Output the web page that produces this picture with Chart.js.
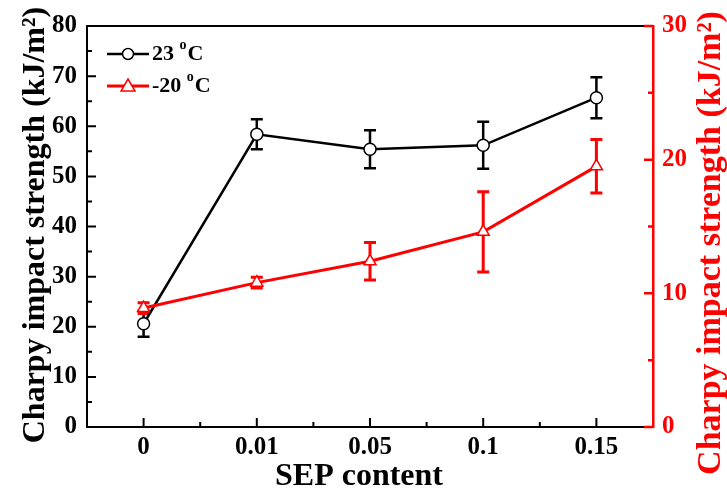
<!DOCTYPE html>
<html lang="en">
<head>
<meta charset="UTF-8" />
<title>Charpy impact strength vs SEP content</title>
<script src="https://cdn.jsdelivr.net/npm/chart.js"></script>
<style>
  html, body { margin: 0; padding: 0; background: #fff; }
</style>
</head>
<body>
<canvas id="impactChart" width="727" height="491"></canvas>
<script>
// SEP content on the x axis
const sepContent = ['0', '0.01', '0.05', '0.1', '0.15'];
// impact strength at 23 oC (left axis) and its standard deviation
const strength23 = [20.6, 58.4, 55.4, 56.2, 65.7];
const error23 = [2.6, 3.0, 3.8, 4.7, 4.1];
// impact strength at -20 oC (right axis) and its standard deviation
const strengthMinus20 = [8.9, 10.8, 12.4, 14.6, 19.5];
const errorMinus20 = [0.4, 0.4, 1.4, 3.0, 2.0];
// axis ranges
const leftTicks = [0, 10, 20, 30, 40, 50, 60, 70, 80];
const rightTicks = [0, 10, 20, 30];

const SERIF = "'Liberation Serif', 'Times New Roman', serif";
const RED = '#ff0000';

// error bars go under the markers
const errorBars = {
  id: 'errorBars',
  beforeDatasetsDraw(chart) {
    const ctx = chart.ctx;
    chart.data.datasets.forEach((ds, i) => {
      const meta = chart.getDatasetMeta(i);
      const ys = chart.scales[ds.yAxisID];
      ctx.save();
      ctx.strokeStyle = ds.borderColor;
      ctx.lineWidth = ds.errorWidth;
      meta.data.forEach((pt, j) => {
        const hi = ys.getPixelForValue(ds.data[j] + ds.errors[j]);
        const lo = ys.getPixelForValue(ds.data[j] - ds.errors[j]);
        ctx.beginPath();
        ctx.moveTo(pt.x, hi); ctx.lineTo(pt.x, lo);
        ctx.moveTo(pt.x - 6, hi); ctx.lineTo(pt.x + 6, hi);
        ctx.moveTo(pt.x - 6, lo); ctx.lineTo(pt.x + 6, lo);
        ctx.stroke();
      });
      ctx.restore();
    });
  }
};

// inward tick marks, top frame line, axis titles and legend
const frameAndText = {
  id: 'frameAndText',
  afterDraw(chart) {
    const ctx = chart.ctx;
    const area = chart.chartArea;
    const x = chart.scales.x, y = chart.scales.y, y1 = chart.scales.y1;
    ctx.save();

    // top frame
    ctx.strokeStyle = '#000';
    ctx.lineWidth = 2;
    ctx.beginPath();
    ctx.moveTo(area.left - 1, area.top);
    ctx.lineTo(area.right, area.top);
    ctx.stroke();

    // x ticks: major at categories, minor between them
    ctx.lineWidth = 2;
    ctx.beginPath();
    sepContent.forEach((c, i) => {
      const px = x.getPixelForValue(i);
      ctx.moveTo(px, area.bottom); ctx.lineTo(px, area.bottom - 9);
      if (i < sepContent.length - 1) {
        const mid = (px + x.getPixelForValue(i + 1)) / 2;
        ctx.moveTo(mid, area.bottom); ctx.lineTo(mid, area.bottom - 5);
      }
    });
    // left ticks, every 5 with majors every 10
    for (let v = leftTicks[0]; v <= leftTicks[leftTicks.length - 1]; v += 5) {
      const py = y.getPixelForValue(v);
      ctx.moveTo(area.left, py); ctx.lineTo(area.left + (v % 10 === 0 ? 9 : 5), py);
    }
    ctx.stroke();

    // right ticks in red
    ctx.strokeStyle = RED;
    ctx.lineWidth = 2.5;
    ctx.beginPath();
    for (let v = rightTicks[0]; v <= rightTicks[rightTicks.length - 1]; v += 5) {
      const py = y1.getPixelForValue(v);
      ctx.moveTo(area.right, py); ctx.lineTo(area.right - (v % 10 === 0 ? 9 : 5), py);
    }
    ctx.stroke();

    // axis titles
    ctx.fillStyle = '#000';
    ctx.font = 'bold 32px ' + SERIF;
    ctx.textAlign = 'center';
    ctx.textBaseline = 'alphabetic';
    ctx.fillText('SEP content', 359, 485);

    const yTitle = 'Charpy impact strength (kJ/m\u00B2)';
    ctx.save();
    ctx.translate(44, 225);
    ctx.rotate(-Math.PI / 2);
    ctx.fillText(yTitle, 0, 0);
    ctx.restore();

    ctx.save();
    ctx.fillStyle = RED;
    ctx.font = 'bold 34px ' + SERIF;
    ctx.translate(720, 243);
    ctx.rotate(-Math.PI / 2);
    ctx.fillText(yTitle, 0, 0);
    ctx.restore();

    // legend
    const entries = [
      { text: '23', color: '#000', style: 'circle', y: 54 },
      { text: '-20', color: RED, style: 'triangle', y: 86 }
    ];
    entries.forEach(e => {
      ctx.strokeStyle = e.color;
      ctx.lineWidth = e.color === RED ? 3 : 2.5;
      ctx.beginPath();
      ctx.moveTo(107, e.y); ctx.lineTo(149, e.y);
      ctx.stroke();
      ctx.fillStyle = '#fff';
      ctx.lineWidth = 1.5;
      ctx.beginPath();
      if (e.style === 'circle') {
        ctx.arc(128, e.y, 5.5, 0, Math.PI * 2);
      } else {
        ctx.moveTo(128, e.y - 7);
        ctx.lineTo(135, e.y + 5);
        ctx.lineTo(121, e.y + 5);
        ctx.closePath();
      }
      ctx.fill();
      ctx.stroke();

      ctx.fillStyle = '#000';
      ctx.textAlign = 'left';
      ctx.font = 'bold 22px ' + SERIF;
      let tx = 152;
      const base = e.y + 6;
      ctx.fillText(e.text + ' ', tx, base);
      tx += ctx.measureText(e.text + ' ').width;
      ctx.font = 'bold 14px ' + SERIF;
      ctx.fillText('o', tx, base - 11);
      tx += ctx.measureText('o').width + 1;
      ctx.font = 'bold 22px ' + SERIF;
      ctx.fillText('C', tx, base);
    });

    ctx.restore();
  }
};

const tickFont = { family: SERIF, size: 25, weight: 'bold' };

new Chart(document.getElementById('impactChart'), {
  type: 'line',
  data: {
    labels: sepContent,
    datasets: [
      {
        label: '23 oC',
        data: strength23,
        errors: error23,
        errorWidth: 2.5,
        yAxisID: 'y',
        order: 2,
        borderColor: '#000',
        borderWidth: 2.5,
        pointStyle: 'circle',
        pointRadius: 6,
        pointBorderWidth: 1.5,
        pointBorderColor: '#000',
        pointBackgroundColor: '#fff',
        tension: 0
      },
      {
        label: '-20 oC',
        data: strengthMinus20,
        errors: errorMinus20,
        errorWidth: 3,
        yAxisID: 'y1',
        order: 1,
        borderColor: RED,
        borderWidth: 3,
        pointStyle: 'triangle',
        pointRadius: 7,
        pointBorderWidth: 1.5,
        pointBorderColor: RED,
        pointBackgroundColor: '#fff',
        tension: 0
      }
    ]
  },
  options: {
    responsive: false,
    animation: false,
    events: [],
    layout: { padding: { top: 26, left: 0, right: 0, bottom: 0 } },
    plugins: {
      legend: { display: false },
      tooltip: { enabled: false }
    },
    scales: {
      x: {
        type: 'category',
        offset: true,
        grid: { display: false, drawTicks: false },
        border: { color: '#000', width: 2 },
        ticks: { color: '#000', font: tickFont, padding: 6, maxRotation: 0 },
        afterFit(scale) { scale.height = 64; }
      },
      y: {
        position: 'left',
        min: leftTicks[0],
        max: leftTicks[leftTicks.length - 1],
        grid: { display: false, drawTicks: false },
        border: { color: '#000', width: 2 },
        ticks: { color: '#000', font: tickFont, padding: 10, stepSize: 10 },
        afterFit(scale) { scale.width = 87; }
      },
      y1: {
        position: 'right',
        min: rightTicks[0],
        max: rightTicks[rightTicks.length - 1],
        grid: { display: false, drawTicks: false },
        border: { color: RED, width: 2.5 },
        ticks: { color: RED, font: tickFont, padding: 9, stepSize: 10 },
        afterFit(scale) { scale.width = 74; }
      }
    }
  },
  plugins: [errorBars, frameAndText]
});
</script>
</body>
</html>
